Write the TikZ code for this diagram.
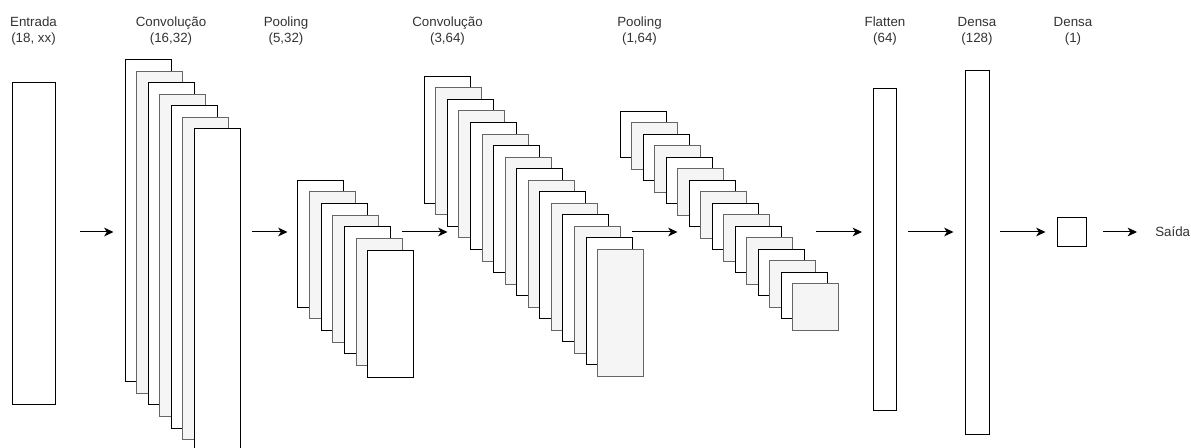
\documentclass[tikz,border=0pt]{standalone}
\usepackage{fontspec}
\setmainfont{Liberation Sans}
\usetikzlibrary{arrows.meta}
\definecolor{txt}{HTML}{333333}
\definecolor{fillgray}{HTML}{F5F5F5}
\definecolor{edgegray}{HTML}{666666}
\tikzset{
  layer/.style={draw=black, fill=white, line width=0.75pt, inner sep=0pt, outer sep=0pt, anchor=north west},
  graylayer/.style={layer, draw=edgegray, fill=fillgray},
  caption/.style={text=txt, font=\fontsize{10}{12}\selectfont, align=center, anchor=base, inner sep=0pt},
  flow/.style={line width=0.75pt, -{Stealth[length=7pt, width=6.5pt, inset=2pt]}}
}
% draws a stack of feature maps: #1 name, #2 count, #3 x0, #4 y0, #5 step, #6 width, #7 height
\newcommand{\mapstack}[7]{%
  \foreach \k in {1,...,#2}{%
    \pgfmathtruncatemacro{\odd}{mod(\k,2)}%
    \ifnum\odd=1
      \node[layer, minimum width=#6, minimum height=#7] (#1-\k) at ({#3+(\k-1)*#5}, {#4+(\k-1)*#5}) {};
    \else
      \node[graylayer, minimum width=#6, minimum height=#7] (#1-\k) at ({#3+(\k-1)*#5}, {#4+(\k-1)*#5}) {};
    \fi
  }%
}
\begin{document}
\begin{tikzpicture}[x=0.75pt, y=-0.75pt]
  \useasboundingbox (0,0) rectangle (1191,448);
  \clip (0,0) rectangle (1191,448);

  % input
  \node[layer, minimum width=43.5*0.75pt, minimum height=322*0.75pt] (entrada) at (12,83) {};

  % convolution and pooling stacks
  \mapstack{convA}{7}{125}{60}{11.5}{46*0.75pt}{322*0.75pt}
  \mapstack{poolA}{7}{297.7}{180.3}{11.67}{46*0.75pt}{127*0.75pt}
  \mapstack{convB}{16}{424.3}{76.3}{11.55}{46*0.75pt}{127*0.75pt}
  \mapstack{poolB}{16}{620}{111.3}{11.5}{46.3*0.75pt}{46.3*0.75pt}

  % dense part
  \node[layer, minimum width=23.4*0.75pt, minimum height=322.7*0.75pt] (flatten) at (873.3,88.3) {};
  \node[layer, minimum width=23.7*0.75pt, minimum height=363.3*0.75pt] (densa) at (965.3,70.7) {};
  \node[layer, minimum width=29*0.75pt, minimum height=29.3*0.75pt] (saida) at (1057.7,217.7) {};
  \node[text=txt, font=\fontsize{10}{12}\selectfont, anchor=west, inner sep=0pt] (out) at (1155,232) {Saída};

  % captions (anchored at the baseline of the second line)
  \node[caption] (capIn) at (33.5,43) {Entrada\\(18, xx)};
  \node[caption] (capConvA) at (171,43) {Convolução\\(16,32)};
  \node[caption] (capPoolA) at (286,43) {Pooling\\(5,32)};
  \node[caption] (capConvB) at (447.5,43) {Convolução\\(3,64)};
  \node[caption] (capPoolB) at (639.5,43) {Pooling\\(1,64)};
  \node[caption] (capFlat) at (885,43) {Flatten\\(64)};
  \node[caption] (capDensA) at (977,43) {Densa\\(128)};
  \node[caption] (capDensB) at (1073,43) {Densa\\(1)};

  % connector ends
  \coordinate (a1s) at (80,232);   \coordinate (a1e) at (113.5,232);
  \coordinate (a2s) at (252,232);  \coordinate (a2e) at (287.5,232);
  \coordinate (a3s) at (402,232);  \coordinate (a3e) at (447.5,232);
  \coordinate (a4s) at (632,232);  \coordinate (a4e) at (677.5,232);
  \coordinate (a5s) at (816,232);  \coordinate (a5e) at (862,232);
  \coordinate (a6s) at (908,232);  \coordinate (a6e) at (953.5,232);
  \coordinate (a7s) at (1000,232); \coordinate (a7e) at (1045.5,232);
  \coordinate (a8s) at (1103,232); \coordinate (a8e) at (1137,232);

  \foreach \i in {1,...,8}{
    \draw[flow] (a\i s) -- (a\i e);
  }
\end{tikzpicture}
\end{document}
